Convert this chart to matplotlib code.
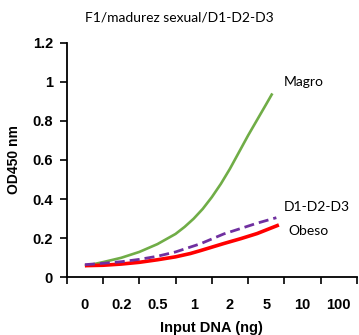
import matplotlib
matplotlib.use('Agg')
import matplotlib.pyplot as plt
import numpy as np

# categories on the x axis (input DNA, ng)
categories = ['0', '0.2', '0.5', '1', '2', '5', '10', '100']
y_ticks = [0, 0.2, 0.4, 0.6, 0.8, 1.0, 1.2]
y_tick_labels = ['0', '0.2', '0.4', '0.6', '0.8', '1', '1.2']

# curves (x in category positions)
magro_x = [0, 0.5, 1.0, 1.5, 2.0, 2.5, 2.75, 3.0, 3.25, 3.5, 3.75, 4.0, 4.5, 5.0, 5.17]
magro_y = [0.058, 0.078, 0.100, 0.130, 0.170, 0.222, 0.258, 0.300, 0.350, 0.410, 0.478,
           0.555, 0.725, 0.885, 0.940]

obeso_x = [0, 0.5, 1.0, 1.5, 2.0, 2.5, 2.91, 3.19, 3.83, 4.3, 4.75, 5.35]
obeso_y = [0.06, 0.062, 0.068, 0.077, 0.09, 0.105, 0.122, 0.137, 0.173, 0.198, 0.224, 0.268]

d123_x = [0, 0.5, 1.0, 1.5, 2.0, 2.5, 2.91, 3.19, 3.83, 4.3, 4.75, 5.28]
d123_y = [0.065, 0.072, 0.08, 0.092, 0.108, 0.13, 0.155, 0.172, 0.222, 0.25, 0.277, 0.305]

fig = plt.figure(figsize=(3.59, 3.35), dpi=100)
ax = fig.add_axes([0.186, 0.172, 0.808, 0.701])

ax.plot(magro_x, magro_y, color='#70AD47', lw=1.9, solid_capstyle='butt')
ax.plot(obeso_x, obeso_y, color='#FF0000', lw=2.6, solid_capstyle='butt')
ax.plot(d123_x, d123_y, color='#7030A0', lw=2.0, dashes=(3.6, 1.8))

# series labels
label_font = 'Lato'
ax.text(5.48, 1.0, 'Magro', fontsize=10, family=label_font, va='center', ha='left')
ax.text(5.48, 0.358, 'D1-D2-D3', fontsize=10, family=label_font, va='center', ha='left')
ax.text(5.62, 0.235, 'Obeso', fontsize=10, family=label_font, va='center', ha='left')

ax.set_xlim(-0.5, 7.5)
ax.set_ylim(0, 1.2)

# major ticks at category borders, labels in the middle
ax.set_xticks(np.arange(-0.5, 8.0, 1.0))
ax.set_xticklabels([])
ax.set_xticks(np.arange(len(categories)), minor=True)
ax.set_xticklabels(categories, minor=True, fontsize=10.5, fontweight='bold',
                   family='Liberation Sans')
ax.tick_params(axis='x', which='major', direction='out', length=5, width=1.2)
ax.tick_params(axis='x', which='minor', length=0, pad=15)

ax.set_yticks(y_ticks)
ax.set_yticklabels(y_tick_labels, fontsize=10.5, fontweight='bold', family='Liberation Sans')
ax.tick_params(axis='y', direction='out', length=5, width=1.2, pad=5)

for s in ['top', 'right']:
    ax.spines[s].set_visible(False)
for s in ['left', 'bottom']:
    ax.spines[s].set_linewidth(1.3)

ax.set_xlabel('Input DNA (ng)', fontsize=10.5, fontweight='bold', family='Liberation Sans',
              labelpad=6)
ax.set_ylabel('OD450 nm', fontsize=10, fontweight='bold', family='Liberation Sans',
              labelpad=8)

fig.text(0.5, 0.949, 'F1/madurez sexual/D1-D2-D3', ha='center', va='center',
         fontsize=10, family='Lato')

fig.savefig('out.png', dpi=100)
